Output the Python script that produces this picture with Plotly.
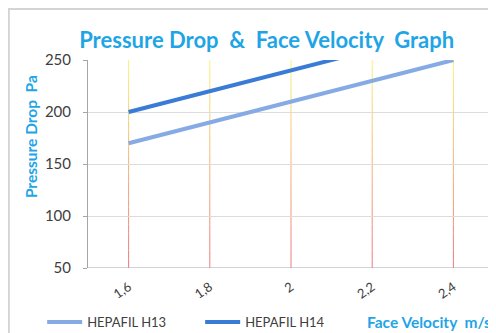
import plotly.graph_objects as go

velocity = ['1,6', '1,8', '2', '2,2', '2,4']
h13 = [170, 190, 210, 230, 250]
h14 = [200, 220, 240, 260, 280]
y_ticks = [50, 100, 150, 200, 250]

CYAN = '#1fa5e6'
FONT = 'Lato'

fig = go.Figure()

# vertical grid lines: yellow at top fading to red at the bottom
n_seg = 24
top_rgb = (250, 240, 120)
bot_rgb = (238, 120, 125)
for i in range(len(velocity)):
    for k in range(n_seg):
        t = k / (n_seg - 1)
        r, g, b = [int(bot_rgb[j] + (top_rgb[j] - bot_rgb[j]) * t) for j in range(3)]
        y0 = 50 + 200 * k / n_seg
        y1 = 50 + 200 * (k + 1) / n_seg
        fig.add_shape(type='line', xref='x', yref='y', x0=i, x1=i, y0=y0, y1=y1,
                      line=dict(color=f'rgb({r},{g},{b})', width=1), layer='below')

fig.add_trace(go.Scatter(
    x=velocity, y=h13, mode='lines', name='HEPAFIL H13',
    line=dict(color='#86aae4', width=4),
))
fig.add_trace(go.Scatter(
    x=velocity, y=h14, mode='lines', name='HEPAFIL H14',
    line=dict(color='#3a7bd6', width=4),
))

# outer frame (left and top edges of the chart box)
fig.add_shape(type='line', xref='paper', yref='paper',
              x0=-0.195, x1=-0.195, y0=-0.32, y1=1.255,
              line=dict(color='#d4d4d4', width=2))
fig.add_shape(type='line', xref='paper', yref='paper',
              x0=-0.197, x1=1.01, y0=1.245, y1=1.245,
              line=dict(color='#d4d4d4', width=2))

fig.add_annotation(text='<b>Face Velocity  m/s</b>', xref='paper', yref='paper',
                   x=0.998, y=-0.26, xanchor='right', yanchor='middle', showarrow=False,
                   font=dict(family=FONT, size=15.5, color=CYAN))
fig.add_annotation(text='<b>Pressure Drop  Pa</b>', xref='paper', yref='paper',
                   x=-0.14, y=0.63, xanchor='center', yanchor='middle', showarrow=False,
                   textangle=-90, font=dict(family=FONT, size=15.5, color=CYAN))

fig.update_layout(
    width=488, height=325,
    margin=dict(l=80, r=2, t=52, b=65, autoexpand=False),
    paper_bgcolor='white', plot_bgcolor='white',
    title=dict(text='<b>Pressure Drop  &  Face Velocity  Graph</b>',
               x=0.53, xanchor='center', y=0.9, yanchor='middle',
               font=dict(family=FONT, size=22, color=CYAN)),
    showlegend=True,
    legend=dict(orientation='h', x=0.07, xref='container', y=0.034, yref='container',
                yanchor='middle', xanchor='left',
                font=dict(family=FONT, size=13, color='#404040'),
                itemwidth=35, entrywidth=108, entrywidthmode='pixels',
                tracegroupgap=0, bgcolor='rgba(0,0,0,0)'),
)

fig.update_xaxes(
    type='category', range=[-0.5, 4.5], showgrid=False, automargin=False,
    showline=False, ticks='', tickangle=-35, ticklabelstandoff=8,
    tickfont=dict(family=FONT, size=13, color='#404040'),
)
fig.update_yaxes(
    range=[50, 250], tickvals=y_ticks, showgrid=True, gridcolor='#dcdcdc',
    showline=True, linecolor='#a6a6a6', linewidth=1, automargin=False,
    ticks='outside', ticklen=4, tickcolor='#a6a6a6', ticklabelstandoff=9,
    zeroline=False,
    tickfont=dict(family=FONT, size=15, color='#404040'),
)
# bottom axis line at y=50
fig.add_shape(type='line', xref='paper', yref='y', x0=0, x1=1, y0=50, y1=50,
              line=dict(color='#a6a6a6', width=1))

fig.write_html('out.html')
